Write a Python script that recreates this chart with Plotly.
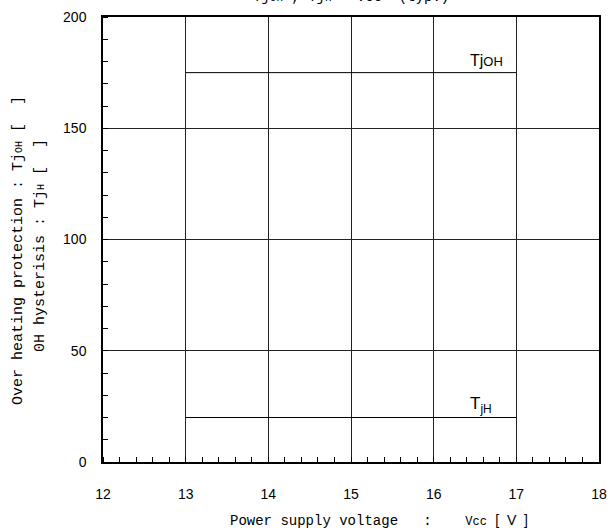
import plotly.graph_objects as go

# Data
voltage = [13, 17]
tjoh = [175, 175]
tjh = [20, 20]
x_ticks = [12, 13, 14, 15, 16, 17, 18]
y_ticks = [0, 50, 100, 150, 200]

fig = go.Figure()
fig.add_trace(go.Scatter(x=voltage, y=tjoh, mode="lines",
                         line=dict(color="black", width=1), showlegend=False))
fig.add_trace(go.Scatter(x=voltage, y=tjh, mode="lines",
                         line=dict(color="black", width=1), showlegend=False))

sans = "Liberation Sans, Arial, sans-serif"
mono = "Liberation Mono, DejaVu Sans Mono, monospace"

fig.update_layout(
    width=611, height=531,
    margin=dict(l=103, r=12, t=17, b=69),
    paper_bgcolor="white", plot_bgcolor="white",
    font=dict(family=sans, size=14, color="black"),
    xaxis=dict(range=[12, 18], tickvals=x_ticks, ticks="", showgrid=True,
               gridcolor="#222", gridwidth=1, zeroline=False, automargin=False,
               showline=True, linecolor="black", linewidth=1.5, mirror=True,
               ticklabelstandoff=18, tickfont=dict(family=sans, size=14),
               minor=dict(dtick=0.2, ticks="inside", ticklen=5, tickcolor="black",
                          showgrid=False)),
    yaxis=dict(range=[0, 200], tickvals=y_ticks, ticks="", showgrid=True,
               gridcolor="#222", gridwidth=1, zeroline=False, automargin=False,
               showline=True, linecolor="black", linewidth=1.5, mirror=True,
               ticklabelstandoff=12, tickfont=dict(family=sans, size=14),
               minor=dict(dtick=10, ticks="inside", ticklen=5, tickcolor="black",
                          showgrid=False)),
)

annotations = [
    dict(x=16.64, y=175, xref="x", yref="y", yshift=12, showarrow=False,
         xanchor="center", yanchor="middle",
         text="Tj<span style='font-size:13px'>OH</span>",
         font=dict(family=sans, size=16)),
    dict(x=16.57, y=20, xref="x", yref="y", yshift=13, showarrow=False,
         xanchor="center", yanchor="middle",
         text="T<sub>jH</sub>", font=dict(family=sans, size=17)),
    dict(x=0, y=0, xref="paper", yref="paper", xshift=125, yshift=-58,
         showarrow=False, xanchor="left", yanchor="middle",
         text="Power supply voltage   :    <span style='font-size:12px'>Vcc</span> "
              "<span style='font-family:Liberation Sans'>[&nbsp;&nbsp;V&nbsp;&nbsp;]</span>",
         font=dict(family=mono, size=14)),
    dict(x=0, y=1, xref="paper", yref="paper", xshift=-85, yshift=-(251 - 17),
         showarrow=False, textangle=-90, xanchor="center", yanchor="middle",
         text="Over heating protection : Tj<span style='font-size:10px'>OH</span> [  ]",
         font=dict(family=mono, size=15)),
    dict(x=0, y=1, xref="paper", yref="paper", xshift=-63, yshift=-(246 - 17),
         showarrow=False, textangle=-90, xanchor="center", yanchor="middle",
         text="0H hysterisis : Tj<span style='font-size:10px'>H</span> [  ]",
         font=dict(family=mono, size=15)),
    dict(x=0.5, y=1, xref="paper", yref="paper", yshift=20, showarrow=False,
         xanchor="center", yanchor="middle",
         text="Tj<span style='font-size:11px'>OH</span> , Tj<span style='font-size:11px'>H</span> - Vcc  (typ.)",
         font=dict(family=mono, size=14)),
]
fig.update_layout(annotations=annotations)

fig.write_html("out.html", config={"displayModeBar": False},
               post_script="document.body.style.margin='0';")
